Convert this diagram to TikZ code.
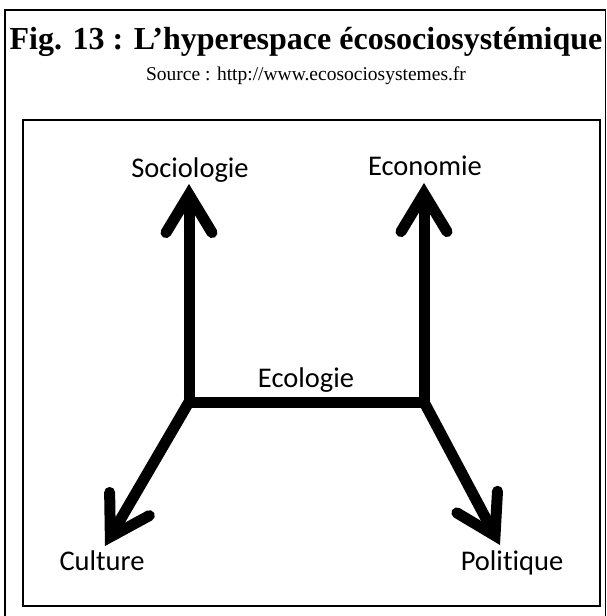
\documentclass[tikz,border=0pt]{standalone}
\usepackage{fontspec}
\setmainfont{Liberation Serif}
\newfontfamily\labelfont[Ligatures=NoCommon]{Carlito}
\usetikzlibrary{arrows.meta, positioning}

\begin{document}
\begin{tikzpicture}[x=1pt, y=-1pt,
    frame/.style={draw, line width=1.6pt},
    label/.style={font=\labelfont\fontsize{28.5}{30}\selectfont, inner sep=1pt, anchor=base},
    axis/.style={line width=11pt, line join=miter},
    arrow/.style={axis, -{Straight Barb[length=38pt, width=46pt, line cap=round, line join=miter]}},
    doublearrow/.style={axis, {Straight Barb[length=38pt, width=46pt, line cap=round, line join=miter]}-{Straight Barb[length=38pt, width=46pt, line cap=round, line join=miter]}}]

    \useasboundingbox (0,0) rectangle (607,616);

    % Frames
    \draw[frame] (5,625) -- (5,10) -- (605.5,10) -- (605.5,625);
    \draw[frame] (23,120) rectangle (600,606);

    % Title
    \node[font=\bfseries\fontsize{32}{34}\selectfont, inner sep=0pt] (title) at (306,42) {Fig. 13 : L’hyperespace écosociosystémique};
    \node[font=\fontsize{19.5}{21}\selectfont, inner sep=0pt] (source) at (306,76) {Source : http://www.ecosociosystemes.fr};

    % Nodes
    \coordinate (left) at (189,402);
    \coordinate (right) at (424,402);
    \coordinate (soctip) at (189,184);
    \coordinate (ecotip) at (424,183);
    \coordinate (cultip) at (105,546);
    \coordinate (poltip) at (500,545);
    \node[label] (socio) at (190,177) {Sociologie};
    \node[label] (econ) at (425,175) {Economie};
    \node[label] (ecol) at (306,387) {Ecologie};
    \node[label] (cult) at (102,570) {Culture};
    \node[label] (polit) at (512,570) {Politique};

    % Arrows
    \draw[doublearrow] (soctip) -- (left) -- (right) -- (ecotip);
    \draw[arrow] (left) -- (cultip);
    \draw[arrow] (right) -- (poltip);

\end{tikzpicture}
\end{document}
